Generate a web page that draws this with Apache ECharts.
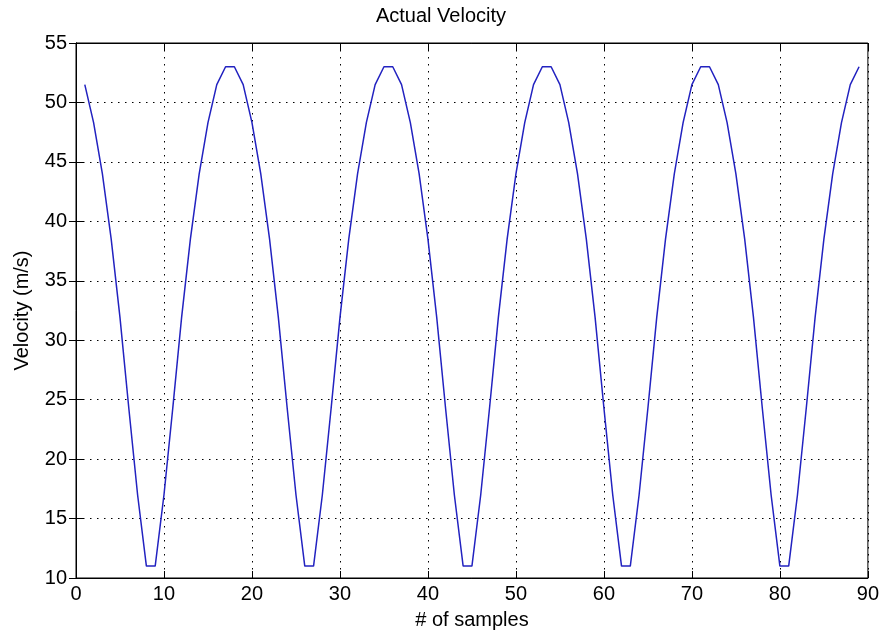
<!DOCTYPE html>
<html>
<head>
<meta charset="utf-8">
<title>Actual Velocity</title>
<script src="https://cdn.jsdelivr.net/npm/echarts@6.0.0/dist/echarts.min.js"></script>
<style>
    html, body {margin: 0; padding: 0; background: #fff;}
    #main {width: 882px; height: 639px;}
</style>
</head>
<body>
<div id="main"></div>
<script>
// velocity, one value per sample (samples 1..89)
var velocity = [
    51.5, 48.3, 44, 38.5, 31.9, 24.3, 17, 11,
    11, 17, 24.3, 31.9, 38.5, 44, 48.3, 51.5, 53,
    53, 51.5, 48.3, 44, 38.5, 31.9, 24.3, 17, 11,
    11, 17, 24.3, 31.9, 38.5, 44, 48.3, 51.5, 53,
    53, 51.5, 48.3, 44, 38.5, 31.9, 24.3, 17, 11,
    11, 17, 24.3, 31.9, 38.5, 44, 48.3, 51.5, 53,
    53, 51.5, 48.3, 44, 38.5, 31.9, 24.3, 17, 11,
    11, 17, 24.3, 31.9, 38.5, 44, 48.3, 51.5, 53,
    53, 51.5, 48.3, 44, 38.5, 31.9, 24.3, 17, 11,
    11, 17, 24.3, 31.9, 38.5, 44, 48.3, 51.5, 53
];
var xRange = [0, 90];
var yRange = [10, 55];
var titleText = 'Actual Velocity';
var xName = '# of samples';
var yName = 'Velocity (m/s)';

var seriesData = [];
for(var i = 0; i < velocity.length; i++) {
    seriesData.push([i + 1, velocity[i]]);
}

var fontFamily = 'Liberation Sans, Arial, sans-serif';
var dotted = {color: '#000', width: 1, type: [1.5, 5.5]};

function axisCommon(extra) {
    var axis = {
        type: 'value',
        axisLine: {show: true, lineStyle: {color: '#000', width: 1}},
        axisTick: {show: true, inside: true, length: 7, lineStyle: {color: '#000'}},
        axisLabel: {color: '#000', fontSize: 20, fontFamily: fontFamily},
        splitLine: {show: false}
    };
    for(var k in extra) {
        axis[k] = extra[k];
    }
    return axis;
}

var chart = echarts.init(document.getElementById('main'), null, {renderer: 'canvas'});
chart.setOption({
    animation: false,
    backgroundColor: '#fff',
    title: {
        text: titleText,
        left: 'center',
        top: 1,
        textStyle: {fontSize: 20, fontWeight: 'normal', color: '#000', fontFamily: fontFamily}
    },
    grid: {
        left: 76,
        right: 13,
        top: 43,
        bottom: 61,
        show: true,
        borderColor: '#000',
        borderWidth: 1
    },
    xAxis: [
        axisCommon({
            min: xRange[0], max: xRange[1], interval: 10,
            position: 'bottom',
            axisLabel: {color: '#000', fontSize: 20, fontFamily: fontFamily, margin: 6},
            splitLine: {show: true, lineStyle: dotted},
            name: xName,
            nameLocation: 'middle',
            nameGap: 32,
            nameTextStyle: {fontSize: 20, color: '#000', fontFamily: fontFamily}
        }),
        axisCommon({
            min: xRange[0], max: xRange[1], interval: 10,
            position: 'top',
            axisLabel: {show: false}
        })
    ],
    yAxis: [
        axisCommon({
            min: yRange[0], max: yRange[1], interval: 5,
            position: 'left',
            axisLabel: {color: '#000', fontSize: 20, fontFamily: fontFamily, margin: 9},
            splitLine: {show: true, lineStyle: dotted},
            name: yName,
            nameLocation: 'middle',
            nameGap: 44,
            nameTextStyle: {fontSize: 20, color: '#000', fontFamily: fontFamily}
        }),
        axisCommon({
            min: yRange[0], max: yRange[1], interval: 5,
            position: 'right',
            axisLabel: {show: false}
        })
    ],
    series: [{
        type: 'line',
        data: seriesData,
        xAxisIndex: 0,
        yAxisIndex: 0,
        showSymbol: false,
        smooth: false,
        lineStyle: {color: '#2222c0', width: 1.5},
        itemStyle: {color: '#2222c0'}
    }]
});
</script>
</body>
</html>
